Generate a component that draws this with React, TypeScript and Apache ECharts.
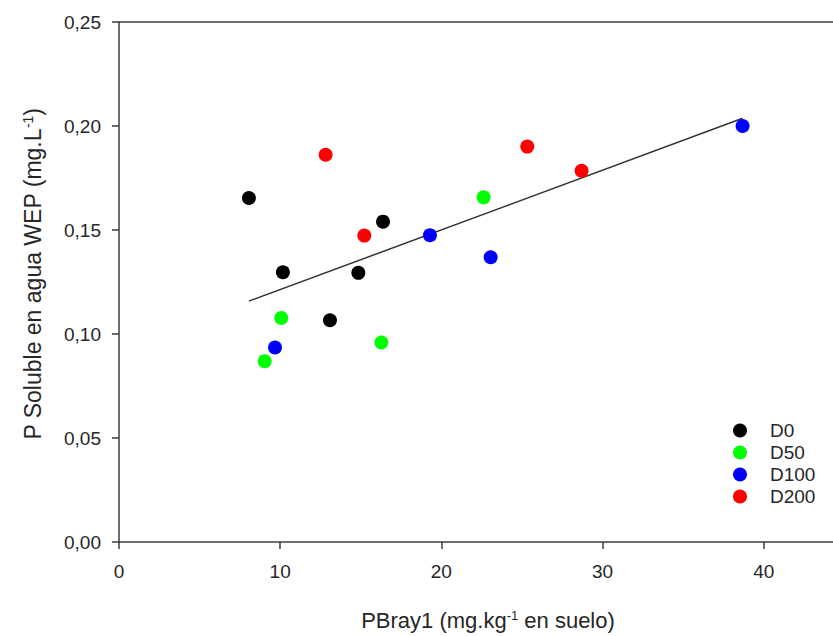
import React, { useEffect, useRef } from "react";
import * as echarts from "echarts";

const d0X = [8.06, 10.17, 13.09, 14.85, 16.38];
const d0Y = [0.1654, 0.1297, 0.1066, 0.1294, 0.154];
const d50X = [9.04, 10.07, 16.28, 22.62];
const d50Y = [0.0869, 0.1077, 0.0959, 0.1657];
const d100X = [9.68, 19.29, 23.06, 38.69];
const d100Y = [0.0935, 0.1475, 0.1369, 0.2];
const d200X = [12.82, 15.22, 25.33, 28.7];
const d200Y = [0.1862, 0.1473, 0.1901, 0.1785];
const fitX = [8.06, 38.69];
const fitY = [0.1158, 0.2037];
const xTicks = [0, 10, 20, 30, 40];
const seriesNames = ["D0", "D50", "D100", "D200"];
const seriesColors = ["#000000", "#00ff00", "#0000ff", "#ff0000"];

const FONT = "'Liberation Sans', Arial, sans-serif";
const AXIS_COLOR = "#3c3c3c";
const TEXT_COLOR = "#262626";

const zip = (xs: number[], ys: number[]) => xs.map((x, i) => [x, ys[i]]);

export default function App() {
  const ref = useRef<HTMLDivElement>(null);
  useEffect(() => {
    if (!ref.current) return;
    const chart = echarts.init(ref.current, undefined, { renderer: "svg" });
    const groups = [
      zip(d0X, d0Y),
      zip(d50X, d50Y),
      zip(d100X, d100Y),
      zip(d200X, d200Y),
    ];
    chart.setOption({
      animation: false,
      backgroundColor: "#ffffff",
      grid: { left: 119, right: 0, top: 22, bottom: 93, containLabel: false },
      legend: {
        orient: "vertical",
        left: 728,
        top: 416,
        itemWidth: 14,
        itemHeight: 14,
        itemGap: 3,
        icon: "circle",
        data: seriesNames,
        textStyle: {
          fontFamily: FONT,
          fontSize: 19,
          color: TEXT_COLOR,
          padding: [0, 0, 0, 18],
        },
      },
      xAxis: [
        {
          type: "value",
          min: 0,
          max: 44.3,
          interval: 10,
          name: "PBray1 (mg.kg{sup|-1} en suelo)",
          nameLocation: "middle",
          nameGap: 67,
          nameTextStyle: {
            fontFamily: FONT,
            fontSize: 22,
            color: TEXT_COLOR,
            padding: [0, 0, 0, 24],
            rich: {
              sup: { fontFamily: FONT, fontSize: 13, verticalAlign: "top", color: TEXT_COLOR },
            },
          },
          axisLine: { show: true, onZero: false, lineStyle: { color: AXIS_COLOR, width: 1.5 } },
          axisTick: {
            show: true,
            length: 7,
            inside: false,
            customValues: xTicks,
            lineStyle: { color: AXIS_COLOR, width: 1.5 },
          },
          axisLabel: {
            fontFamily: FONT,
            fontSize: 19,
            color: TEXT_COLOR,
            margin: 20,
            customValues: xTicks,
            formatter: (v: number) => String(v),
          },
          splitLine: { show: false },
        },
        {
          type: "value",
          position: "top",
          min: 0,
          max: 44.3,
          axisLine: { show: true, onZero: false, lineStyle: { color: AXIS_COLOR, width: 1.5 } },
          axisTick: { show: false },
          axisLabel: { show: false },
          splitLine: { show: false },
        },
      ],
      yAxis: {
        type: "value",
        min: 0,
        max: 0.25,
        interval: 0.05,
        name: "P Soluble en agua WEP (mg.L{sup|-1})",
        nameLocation: "middle",
        nameGap: 75,
        nameRotate: 90,
        nameTextStyle: {
          fontFamily: FONT,
          fontSize: 23,
          color: TEXT_COLOR,
          padding: [0, 0, 0, 16],
          rich: {
            sup: { fontFamily: FONT, fontSize: 14, verticalAlign: "top", color: TEXT_COLOR },
          },
        },
        axisLine: { show: true, onZero: false, lineStyle: { color: AXIS_COLOR, width: 1.5 } },
        axisTick: { show: true, length: 7, inside: false, lineStyle: { color: AXIS_COLOR, width: 1.5 } },
        axisLabel: {
          fontFamily: FONT,
          fontSize: 19,
          color: TEXT_COLOR,
          margin: 18,
          formatter: (v: number) => v.toFixed(2).replace(".", ","),
        },
        splitLine: { show: false },
      },
      series: [
        ...groups.map((data, i) => ({
          name: seriesNames[i],
          type: "scatter",
          xAxisIndex: 0,
          data,
          symbol: "circle",
          symbolSize: 14,
          itemStyle: { color: seriesColors[i], opacity: 1 },
          z: 3,
        })),
        {
          name: "fit",
          type: "line",
          xAxisIndex: 0,
          data: zip(fitX, fitY),
          showSymbol: false,
          symbol: "none",
          lineStyle: { color: "#333333", width: 1.5 },
          z: 2,
        },
      ],
    });
    return () => chart.dispose();
  }, []);
  return (
    <div
      ref={ref}
      style={{ position: "absolute", left: 0, top: 0, width: 833, height: 636, background: "#fff" }}
    />
  );
}
